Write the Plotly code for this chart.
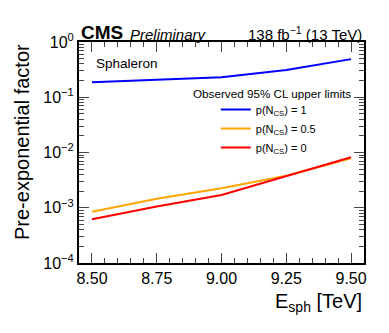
import plotly.graph_objects as go

energy = [8.50, 8.75, 9.00, 9.25, 9.50]
p_ncs_1 = [0.187, 0.205, 0.23, 0.31, 0.49]
p_ncs_05 = [8.5e-4, 1.45e-3, 2.25e-3, 3.8e-3, 7.9e-3]
p_ncs_0 = [6.2e-4, 1.05e-3, 1.7e-3, 3.7e-3, 8.2e-3]
names = ["p(N<sub>CS</sub>) = 1", "p(N<sub>CS</sub>) = 0.5", "p(N<sub>CS</sub>) = 0"]
colors = ["#0000ff", "#ffa500", "#ff0000"]
ytick_vals = [1e-4, 1e-3, 1e-2, 1e-1, 1]
ytick_text = ["10<sup>−4</sup>", "10<sup>−3</sup>", "10<sup>−2</sup>", "10<sup>−1</sup>", "10<sup>0</sup>"]
xtick_vals = [8.5, 8.75, 9.0, 9.25, 9.5]
xtick_text = ["8.50", "8.75", "9.00", "9.25", "9.50"]

FONT = "Liberation Sans, Arial, sans-serif"
fig = go.Figure()
for ys, nm, c in zip([p_ncs_1, p_ncs_05, p_ncs_0], names, colors):
    fig.add_trace(go.Scatter(x=energy, y=ys, mode="lines", name=nm,
                             line=dict(color=c, width=2)))

# page body has an 8px margin: figure is drawn 8px right/down of page origin
fig.update_layout(
    width=373, height=317,
    margin=dict(l=71, r=17, t=34, b=62),
    paper_bgcolor="white", plot_bgcolor="white",
    font=dict(family=FONT, color="black", size=15),
    showlegend=True,
    legend=dict(x=0.48, y=0.76, xanchor="left", yanchor="top",
                font=dict(size=11), bgcolor="rgba(0,0,0,0)",
                itemwidth=30, tracegroupgap=0),
)
fig.update_xaxes(range=[8.45, 9.55], tickvals=xtick_vals, ticktext=xtick_text,
                 ticks="inside", ticklen=10, tickwidth=1, mirror="allticks",
                 showline=True, linecolor="black", linewidth=2, showgrid=False,
                 zeroline=False, tickfont=dict(size=16),
                 minor=dict(dtick=0.05, tick0=8.5, ticks="inside", ticklen=5, showgrid=False))
fig.update_yaxes(type="log", range=[-4, 0], tickvals=ytick_vals, ticktext=ytick_text,
                 ticks="inside", ticklen=10, tickwidth=1, mirror="allticks",
                 showline=True, linecolor="black", linewidth=2, showgrid=False,
                 zeroline=False, tickfont=dict(size=16),
                 minor=dict(ticks="inside", ticklen=5, showgrid=False, dtick="D1"))

anns = [
    dict(x=0, y=1, xref="paper", yref="paper", xanchor="left", yanchor="bottom",
         text="<b>CMS</b>", font=dict(size=19), yshift=-3),
    dict(x=0.172, y=1, xref="paper", yref="paper", xanchor="left", yanchor="bottom",
         text="<i>Preliminary</i>", font=dict(size=15), yshift=-3),
    dict(x=1, y=1, xref="paper", yref="paper", xanchor="right", yanchor="bottom",
         text="138 fb<sup>−1</sup> (13 TeV)", font=dict(size=15), yshift=-3),
    dict(x=0.053, y=0.946, xref="paper", yref="paper", xanchor="left", yanchor="top",
         text="Sphaleron", font=dict(size=13.5)),
    dict(x=0.961, y=0.805, xref="paper", yref="paper", xanchor="right", yanchor="top",
         text="Observed 95% CL upper limits", font=dict(size=11.7)),
    dict(x=1, y=-0.113, xref="paper", yref="paper", xanchor="right", yanchor="top",
         text="E<sub>sph</sub> [TeV]", font=dict(size=20)),
    dict(x=-0.2, y=1, xref="paper", yref="paper", xanchor="center", yanchor="top",
         text="Pre-exponential factor", font=dict(size=20), textangle=-90),
]
for a in anns:
    a["showarrow"] = False
fig.update_layout(annotations=anns)
fig.write_html("out.html")
